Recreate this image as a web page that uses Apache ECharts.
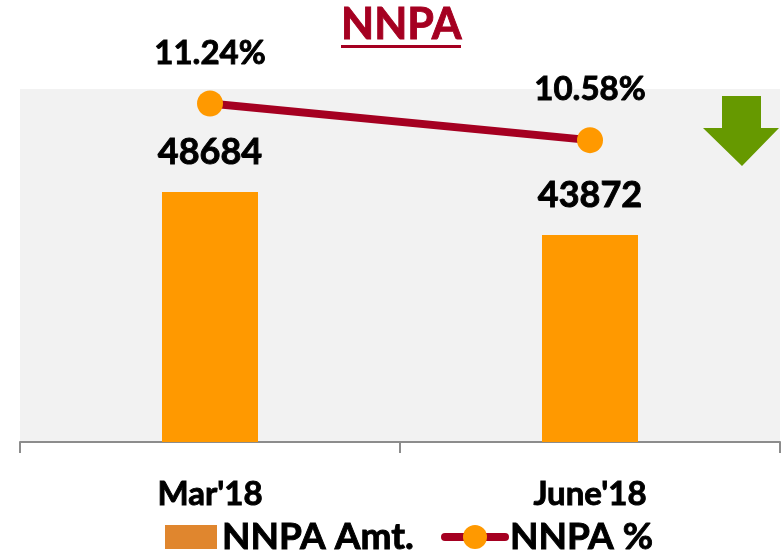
<!DOCTYPE html>
<html>
<head>
<meta charset="utf-8">
<script src="https://cdn.jsdelivr.net/npm/echarts@6/dist/echarts.min.js"></script>
<style>
  html, body { margin: 0; padding: 0; background: #fff; }
  #chart { width: 781px; height: 555px; }
</style>
</head>
<body>
<div id="chart"></div>
<script>
const categories = ["Mar'18", "June'18"];
const nnpaAmt = [48684, 43872];
const nnpaPct = [11.24, 10.58];
const seriesNames = ['NNPA Amt.', 'NNPA %'];

const font = 'Lato';
const red = '#A50021';
const orange = '#FF9900';

// heavy bold text (a thin stroke in the same colour thickens Lato bold)
function heavy(size, color) {
  return {
    color: color, fontFamily: font, fontWeight: 'bold', fontSize: size, lineHeight: size,
    textBorderColor: color, textBorderWidth: 0.9
  };
}

const option = {
  animation: false,
  title: {
    text: 'NNPA',
    left: 336,
    top: -1,
    textStyle: heavy(43, red)
  },
  graphic: [
    // underline of the title
    { type: 'rect', shape: { x: 341, y: 45, width: 120, height: 3 }, style: { fill: red } },
    // green down arrow
    {
      type: 'polygon',
      shape: { points: [[722, 96], [761, 96], [761, 128], [779, 128], [742, 166], [703, 128], [722, 128]] },
      style: { fill: '#669900' }
    }
  ],
  legend: [
    {
      data: [{ name: seriesNames[0], icon: 'rect', itemStyle: { color: '#E0862E' } }],
      left: 160, top: 513,
      itemWidth: 52, itemHeight: 24, itemGap: 0,
      textStyle: heavy(37, '#000')
    },
    {
      data: [{ name: seriesNames[1], lineStyle: { color: red, width: 8, cap: 'round' } }],
      left: 436, top: 513,
      itemWidth: 60, itemHeight: 30, itemGap: 0,
      textStyle: heavy(37, '#000')
    }
  ],
  grid: {
    left: 20, right: 1, top: 89, bottom: 113,
    show: true, backgroundColor: '#F2F2F2', borderWidth: 0
  },
  xAxis: {
    type: 'category',
    data: categories,
    axisLine: { show: true, lineStyle: { color: '#8C8C8C', width: 2 } },
    axisTick: { show: true, interval: 0, alignWithLabel: false, length: 11, lineStyle: { color: '#8C8C8C', width: 2 } },
    axisLabel: Object.assign({ margin: 36 }, heavy(33, '#000'))
  },
  yAxis: [
    { type: 'value', min: 20700, max: 60200, show: false },
    { type: 'value', min: 5.15, max: 11.5, show: false }
  ],
  series: [
    {
      name: seriesNames[0],
      type: 'bar',
      data: nnpaAmt,
      barWidth: 96,
      itemStyle: { color: orange },
      label: Object.assign({ show: true, position: 'top', distance: 22 }, heavy(36, '#000'))
    },
    {
      name: seriesNames[1],
      type: 'line',
      yAxisIndex: 1,
      data: nnpaPct,
      symbol: 'circle',
      symbolSize: 26,
      itemStyle: { color: orange },
      lineStyle: { color: red, width: 8 },
      z: 5,
      label: Object.assign({
        show: true, position: 'top', distance: 21,
        formatter: p => p.value.toFixed(2) + '%'
      }, heavy(33, '#000'))
    }
  ]
};

const chart = echarts.init(document.getElementById('chart'));
chart.setOption(option);
</script>
</body>
</html>
